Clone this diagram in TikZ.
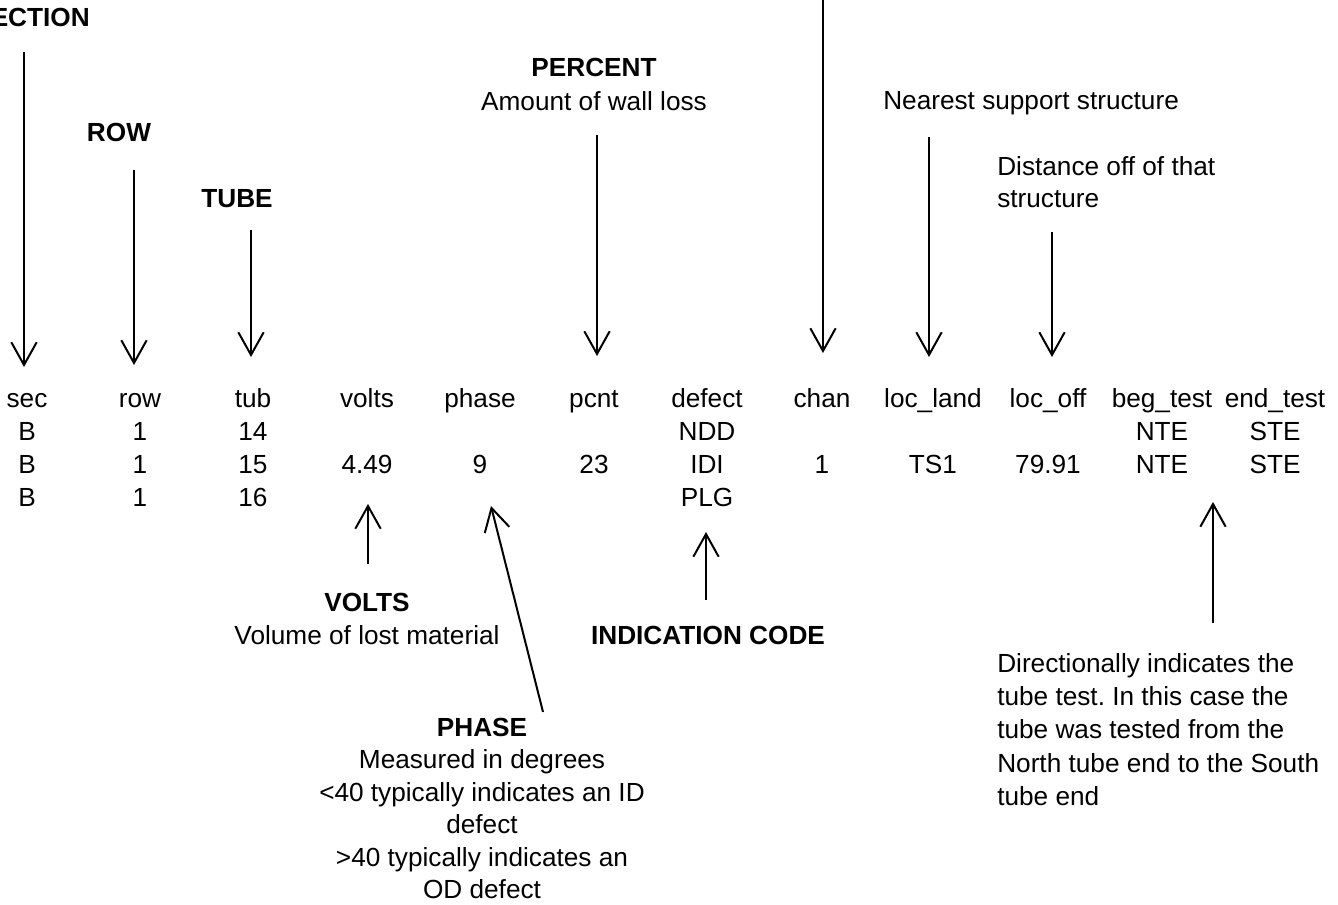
\documentclass[tikz,border=0pt]{standalone}
\usepackage{fontspec}
\setmainfont{Liberation Sans}
\usetikzlibrary{arrows.meta}
\frenchspacing
\begin{document}
\begin{tikzpicture}[x=0.75pt,y=-0.75pt,
  txt/.style={inner sep=0pt, anchor=base, font=\fontsize{19.65pt}{24pt}\selectfont},
  boldtxt/.style={txt, font=\fontsize{19.65pt}{24pt}\selectfont\bfseries},
  lefttxt/.style={txt, anchor=base west},
  pointer/.style={line width=1.5pt, -{Straight Barb[length=17pt,width=19pt]}}]
\useasboundingbox (0,0) rectangle (1338,905);

% ---- table header ----
\foreach \n/\x/\t in {hsec/27/sec, hrow/140/row, htub/253/tub, hvolts/367/volts,
  hphase/480/phase, hpcnt/594/pcnt, hdefect/707/defect, hchan/822/chan,
  hland/933/loc\_land, hoff/1048/loc\_off, hbeg/1162/beg\_test, hend/1275/end\_test}
  \node[txt] (\n) at (\x,407) {\t};

% ---- row 14 ----
\foreach \n/\x/\t in {asec/27/B, arow/140/1, atub/253/14, adefect/707/NDD,
  abeg/1162/NTE, aend/1275/STE}
  \node[txt] (\n) at (\x,440) {\t};
% ---- row 15 ----
\foreach \n/\x/\t in {bsec/27/B, brow/140/1, btub/253/15, bvolts/367/4.49,
  bphase/480/9, bpcnt/594/23, bdefect/707/IDI, bchan/822/1, bland/933/TS1,
  boff/1048/79.91, bbeg/1162/NTE, bend/1275/STE}
  \node[txt] (\n) at (\x,473) {\t};
% ---- row 16 ----
\foreach \n/\x/\t in {csec/27/B, crow/140/1, ctub/253/16, cdefect/707/PLG}
  \node[txt] (\n) at (\x,506) {\t};

% ---- top labels ----
\node[boldtxt, anchor=base east] (lsection) at (90,27) {SECTION};
\node[boldtxt] (lrow) at (119,142) {ROW};
\node[boldtxt] (ltube) at (237,208) {TUBE};
\node[boldtxt] (lpercent) at (594,77) {PERCENT};
\node[txt] (lpercent2) at (594,111) {Amount of wall loss};
\node[lefttxt] (lnear) at (883,110) {Nearest support structure};
\node[lefttxt] (ldist1) at (997,176) {Distance off of that};
\node[lefttxt] (ldist2) at (997,208) {structure};

% ---- bottom labels ----
\node[boldtxt] (lvolts) at (367,611) {VOLTS};
\node[txt] (lvolts2) at (367,644) {Volume of lost material};
\node[boldtxt] (lind) at (708,644) {INDICATION CODE};
\node[boldtxt] (lphase) at (482,736) {PHASE};
\node[txt] (lphase2) at (482,768.5) {Measured in degrees};
\node[txt] (lphase3) at (482,801) {<40 typically indicates an ID};
\node[txt] (lphase4) at (482,833.5) {defect};
\node[txt] (lphase5) at (482,866) {>40 typically indicates an};
\node[txt] (lphase6) at (482,898.5) {OD defect};
\node[lefttxt] (ldir1) at (997,672) {Directionally indicates the};
\node[lefttxt] (ldir2) at (997,705) {tube test. In this case the};
\node[lefttxt] (ldir3) at (997,738.5) {tube was tested from the};
\node[lefttxt] (ldir4) at (997,772) {North tube end to the South};
\node[lefttxt] (ldir5) at (997,805) {tube end};

% ---- arrow end points ----
\coordinate (s1) at (24,52);    \coordinate (e1) at (24,367);
\coordinate (s2) at (134,170);  \coordinate (e2) at (134,365);
\coordinate (s3) at (251,230);  \coordinate (e3) at (251,357);
\coordinate (s4) at (597,135);  \coordinate (e4) at (597,356);
\coordinate (s5) at (823,0);    \coordinate (e5) at (823,353);
\coordinate (s6) at (929,137);  \coordinate (e6) at (929,357);
\coordinate (s7) at (1052,232); \coordinate (e7) at (1052,357);
\coordinate (s8) at (368,564);  \coordinate (e8) at (368,504);
\coordinate (s9) at (543,712);  \coordinate (e9) at (491,506);
\coordinate (s10) at (706,600); \coordinate (e10) at (706,532);
\coordinate (s11) at (1213,623);\coordinate (e11) at (1213,502);

\foreach \i in {1,...,11}
  \draw[pointer] (s\i) -- (e\i);
\end{tikzpicture}
\end{document}
